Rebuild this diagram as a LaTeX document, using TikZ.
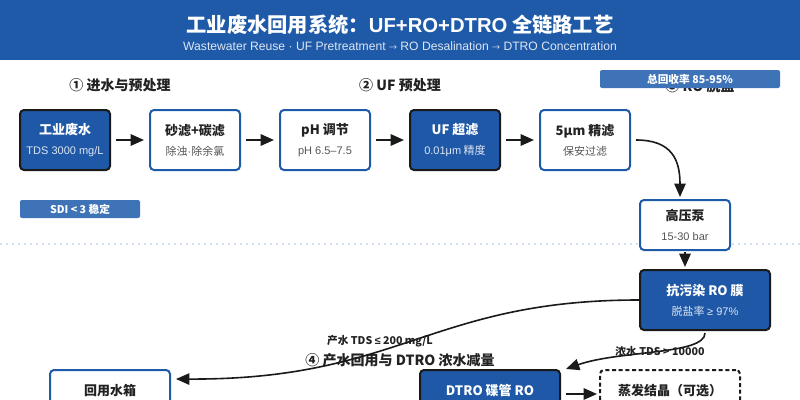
\documentclass[tikz,border=0pt]{standalone}
\usepackage{fontspec}
\setmainfont{Noto Sans CJK SC}
\newfontfamily\latinfont{Liberation Sans}
\usetikzlibrary{arrows.meta,calc}
\definecolor{hdr}{HTML}{1F5AA8}
\definecolor{boxblue}{HTML}{1E58A6}
\definecolor{badge}{HTML}{3E73B8}
\definecolor{darktxt}{HTML}{222222}
\definecolor{subtxt}{HTML}{555555}
\definecolor{lightsub}{HTML}{DCE6F4}
\definecolor{dotline}{HTML}{D3DEEE}
\definecolor{edge}{HTML}{1A1A1A}
\tikzset{
  basebox/.style={rounded corners=3pt, line width=1.5pt, minimum height=45pt,
    minimum width=67.5pt, align=center, inner sep=0pt,
    font=\fontsize{9.75}{15}\selectfont},
  whitebox/.style={basebox, draw=hdr, fill=white, text=darktxt},
  darkbox/.style={basebox, draw=edge, fill=boxblue, text=white},
  dashbox/.style={basebox, draw=edge, fill=white, text=darktxt, dashed, dash pattern=on 3pt off 2pt},
  badgebox/.style={fill=badge, rounded corners=1.5pt, text=white,
    font=\fontsize{8}{10}\selectfont\bfseries, inner sep=0pt},
  seclabel/.style={text=darktxt, font=\fontsize{10.5}{12}\selectfont\bfseries, inner sep=0pt},
  flow/.style={line width=1.5pt, draw=edge, -{Triangle[length=10pt,width=8.5pt]}},
  curveflow/.style={line width=1.2pt, draw=edge, -{Triangle[length=10pt,width=8.5pt]}},
  edgelabel/.style={text=darktxt, font=\fontsize{8}{10}\selectfont\bfseries, inner sep=0pt},
}
\newcommand\subw[1]{{\fontsize{8.25}{15}\selectfont\mdseries\color{subtxt}#1}}
\newcommand\subd[1]{{\fontsize{8.25}{15}\selectfont\mdseries\color{lightsub}#1}}
\newcommand\lat[1]{{\latinfont #1}}
\begin{document}
\begin{tikzpicture}[x=0.75pt,y=-0.75pt]
\useasboundingbox (0,0) rectangle (800,400);
\clip (0,0) rectangle (800,400);
\fill[white] (0,0) rectangle (800,400);
% header
\fill[hdr] (0,0) rectangle (800,60);
\node[text=white, font=\fontsize{15.2}{18}\selectfont\bfseries, inner sep=0pt] (title) at (400,25) {工业废水回用系统：\lat{UF+RO+DTRO} 全链路工艺};
\node[text=lightsub, font=\latinfont\fontsize{9.1}{11}\selectfont, inner sep=0pt] (subtitle) at (400,46)
  {Wastewater Reuse · UF Pretreatment {\fontspec{Noto Sans CJK SC}\fontsize{6}{8}\selectfont →} RO Desalination {\fontspec{Noto Sans CJK SC}\fontsize{6}{8}\selectfont →} DTRO Concentration};
% dotted separator
\draw[dotline, line width=1.5pt, dash pattern=on 1.5pt off 3pt] (0,244) -- (800,244);
% section labels
\node[seclabel] (s1) at (120,85) {① 进水与预处理};
\node[seclabel] (s2) at (400,85) {② UF 预处理};
\node[seclabel] (s3) at (700,86) {③ RO 脱盐};
\node[badgebox, minimum width=135pt, minimum height=13.5pt] (recov) at (690,79) {总回收率 85-95\%};
\node[seclabel] (s4) at (400,360) {④ 产水回用与 DTRO 浓水减量};
% row 1
\node[darkbox] (feed) at (65,140) {\textbf{工业废水}\\\subd{\lat{TDS 3000 mg/L}}};
\node[whitebox] (sand) at (195,140) {\textbf{砂滤+碳滤}\\\subw{除浊\lat{·}除余氯}};
\node[whitebox] (ph) at (325,140) {\textbf{pH 调节}\\\subw{\lat{pH 6.5–7.5}}};
\node[darkbox] (uf) at (455,140) {\textbf{UF 超滤}\\\subd{\lat{0.01μm} 精度}};
\node[whitebox] (fine) at (585,140) {\textbf{5μm 精滤}\\\subw{保安过滤}};
\node[badgebox, minimum width=90pt, minimum height=13.5pt] (sdi) at (80,209) {SDI < 3 稳定};
% RO section
\node[whitebox, minimum height=37.5pt] (pump) at (685,225) {\textbf{高压泵}\\\subw{\lat{15-30 bar}}};
\node[darkbox, minimum width=97.5pt] (ro) at (705,300) {\textbf{抗污染 RO 膜}\\\subd{脱盐率 \lat{≥ 97\%}}};
% bottom row
\node[whitebox, minimum width=90pt] (tank) at (110,400) {\textbf{回用水箱}\\\phantom{x}};
\node[darkbox, minimum width=105pt] (dtro) at (490,400) {\textbf{DTRO 碟管 RO}\\\phantom{x}};
\node[dashbox, minimum width=105pt] (evap) at (670,400) {\textbf{蒸发结晶（可选）}\\\phantom{x}};
% straight arrows
\draw[flow, shorten <=3.75pt, shorten >=3.75pt] (feed.east) -- (sand.west);
\draw[flow, shorten <=3.75pt, shorten >=3.75pt] (sand.east) -- (ph.west);
\draw[flow, shorten <=3.75pt, shorten >=3.75pt] (ph.east) -- (uf.west);
\draw[flow, shorten <=3.75pt, shorten >=3.75pt] (uf.east) -- (fine.west);
\draw[flow, shorten <=1pt, shorten >=1.5pt] (pump.south) -- (ro.north -| pump.south);
\draw[flow, shorten <=3.75pt, shorten >=1.5pt] ($(dtro.east)+(0,-6)$) -- ($(evap.west)+(0,-6)$);
% curves
\coordinate (fstart) at ($(fine.east)+(5,0)$);
\coordinate (pend) at ($(pump.north)+(-5,-2)$);
\draw[curveflow] (fstart) .. controls (672,140) and (680,160) .. (pend);
\coordinate (rostart) at (ro.west);
\coordinate (tankend) at ($(tank.north east)+(5,10)$);
\draw[curveflow] (rostart) .. controls (430,300) and (400,380) .. (tankend);
\coordinate (cstart) at ($(ro.south)+(0,2)$);
\coordinate (dend) at ($(dtro.north east)+(5,0)$);
\draw[curveflow] (cstart) .. controls (705,355) and (620,350) .. (dend);
% edge labels
\node[edgelabel] (permlbl) at (380,341) {产水 TDS {\latinfont\bfseries ≤} 200 mg/L};
\node[edgelabel] (conclbl) at (660,351) {浓水 TDS > 10000};
\end{tikzpicture}
\end{document}
